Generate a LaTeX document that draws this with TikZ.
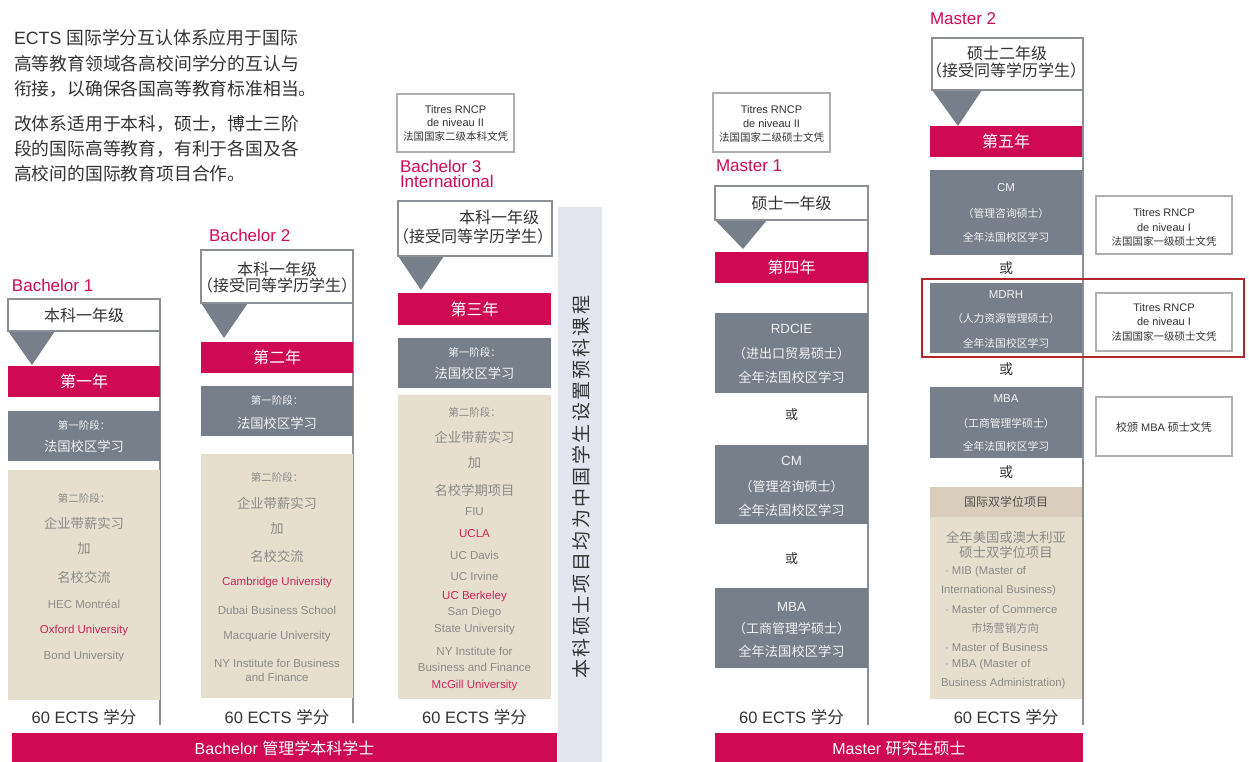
\documentclass[tikz,border=0pt]{standalone}
\usepackage{fontspec}
\setmainfont{Liberation Sans}
\newfontfamily\latfont{Liberation Sans}
\newfontfamily\cjkfont{Noto Sans CJK SC}
\XeTeXinterchartokenstate=1
\newXeTeXintercharclass\CJKcls
\newcount\cc
\cc="3000 \loop \XeTeXcharclass\cc=\CJKcls \advance\cc by 1 \ifnum\cc<"3040 \repeat
\cc="4E00 \loop \XeTeXcharclass\cc=\CJKcls \advance\cc by 1 \ifnum\cc<"A000 \repeat
\cc="FF00 \loop \XeTeXcharclass\cc=\CJKcls \advance\cc by 1 \ifnum\cc<"FFF0 \repeat
\XeTeXinterchartoks 0 \CJKcls = {\cjkfont}
\XeTeXinterchartoks 4095 \CJKcls = {\cjkfont}
\XeTeXinterchartoks \CJKcls 0 = {\latfont}
\XeTeXinterchartoks \CJKcls 4095 = {\latfont}
\def\spaced#1{\spacedi#1\relax}
\def\spacedi#1{\ifx#1\relax\else#1\kern2.4pt\expandafter\spacedi\fi}
\definecolor{brand}{HTML}{CF0A52}
\definecolor{boxgray}{HTML}{77808A}
\definecolor{beige}{HTML}{E6DFCE}
\definecolor{beigedark}{HTML}{D9CDBC}
\definecolor{txt}{HTML}{333333}
\definecolor{softtxt}{HTML}{8A8A8A}
\definecolor{redtxt}{HTML}{D0245A}
\definecolor{band}{HTML}{E3E6EE}
\definecolor{edge}{HTML}{8C9095}
\definecolor{thin}{HTML}{AFAFAF}
\definecolor{hl}{HTML}{B0262B}
\definecolor{wtxt}{HTML}{F2F2F2}
\tikzset{
 tb/.style={inner sep=0pt, outer sep=0pt},
 lbl/.style={tb, anchor=west, text=brand, font=\fontsize{17}{19}\selectfont},
 para/.style={tb, anchor=west, text=txt, font=\fontsize{17.8}{20}\selectfont},
 hd/.style={tb, text=txt, font=\fontsize{16}{18}\selectfont},
 yr/.style={tb, text=white, font=\fontsize{16}{18}\selectfont},
 ph/.style={tb, text=wtxt, font=\fontsize{10.5}{12}\selectfont},
 pb/.style={tb, text=softtxt, font=\fontsize{10.5}{12}\selectfont},
 wt/.style={tb, text=wtxt, font=\fontsize{13.3}{15}\selectfont},
 ws/.style={tb, text=wtxt, font=\fontsize{10.8}{12}\selectfont},
 sb/.style={tb, text=softtxt, font=\fontsize{13.3}{15}\selectfont},
 sl/.style={tb, text=softtxt, font=\fontsize{11.5}{13}\selectfont},
 sr/.style={sl, text=redtxt},
 ects/.style={tb, text=txt, font=\fontsize{16.5}{18}\selectfont},
 rn/.style={tb, text=txt, font=\fontsize{11}{12}\selectfont},
 ban/.style={tb, text=white, font=\fontsize{16}{18}\selectfont},
 orx/.style={tb, text=txt, font=\fontsize{13}{15}\selectfont},
 whitebox/.style={draw=edge, line width=1.4pt, fill=white},
 rnbox/.style={draw=thin, line width=1.1pt, fill=white},
 colline/.style={draw=edge, line width=1.4pt},
}
\begin{document}
\begin{tikzpicture}[x=1pt,y=-1pt]
\useasboundingbox (0,0) rectangle (1249,762);
% ---------- intro text ----------
\node[para] (p1) at (14,38) {ECTS 国际学分互认体系应用于国际};
\node[para] (p2) at (14,64) {高等教育领域各高校间学分的互认与};
\node[para] (p3) at (14,89) {衔接，以确保各国高等教育标准相当。};
\node[para] (p4) at (14,124) {改体系适用于本科，硕士，博士三阶};
\node[para] (p5) at (14,149) {段的国际高等教育，有利于各国及各};
\node[para] (p6) at (14,174) {高校间的国际教育项目合作。};
% ---------- Bachelor 1 ----------
\draw[colline] (160,299) -- (160,725);
\fill[boxgray] (8,331) -- (55,331) -- (32,365) -- cycle;
\draw[whitebox] (8,299) rectangle (160,331);
\fill[brand] (8,366) rectangle (160,397);
\fill[boxgray] (8,411) rectangle (160,461);
\fill[beige] (8,470) rectangle (160,700);
\node[lbl] (b1l) at (12,285) {Bachelor 1};
\node[hd] (b1h) at (84,315) {本科一年级};
\node[yr] (b1y) at (84,381.5) {第一年};
\node[ph] (b1a) at (84,425) {第一阶段：};
\node[wt] (b1b) at (84,446) {法国校区学习};
\node[pb] (b1c) at (84,498) {第二阶段：};
\node[sb] (b1d) at (84,523) {企业带薪实习};
\node[sb] (b1e) at (84,549) {加};
\node[sb] (b1f) at (84,577) {名校交流};
\node[sl] (b1g) at (84,604) {HEC Montréal};
\node[sr] (b1i) at (84,631) {Oxford University};
\node[sl] (b1j) at (84,657) {Bond University};
\node[ects] (b1k) at (84,717) {60 ECTS 学分};
% ---------- Bachelor 2 ----------
\draw[colline] (353,250) -- (353,723);
\fill[boxgray] (201,303) -- (248,303) -- (224,338) -- cycle;
\draw[whitebox] (201,250) rectangle (353,303);
\fill[brand] (201,342) rectangle (353,373);
\fill[boxgray] (201,386) rectangle (353,436);
\fill[beige] (201,454) rectangle (353,698);
\node[lbl] (b2l) at (209,235) {Bachelor 2};
\node[hd] (b2h1) at (277,269) {本科一年级};
\node[hd] (b2h2) at (277,285) {（接受同等学历学生）};
\node[yr] (b2y) at (277,357.5) {第二年};
\node[ph] (b2a) at (277,400) {第一阶段：};
\node[wt] (b2b) at (277,423) {法国校区学习};
\node[pb] (b2c) at (277,477) {第二阶段：};
\node[sb] (b2d) at (277,503) {企业带薪实习};
\node[sb] (b2e) at (277,529) {加};
\node[sb] (b2f) at (277,556) {名校交流};
\node[sr] (b2g) at (277,583) {Cambridge University};
\node[sl] (b2i) at (277,610) {Dubai Business School};
\node[sl] (b2j) at (277,637) {Macquarie University};
\node[sl] (b2k) at (277,663) {NY Institute for Business};
\node[sl] (b2m) at (277,677) {and Finance};
\node[ects] (b2n) at (277,717) {60 ECTS 学分};
% ---------- Bachelor 3 ----------
\draw[rnbox] (397,94) rectangle (514,152);
\node[rn] (b3r1) at (455.5,110) {Titres RNCP};
\node[rn] (b3r2) at (455.5,123) {de niveau II};
\node[rn, font=\fontsize{10.5}{12}\selectfont] (b3r3) at (455.5,136) {法国国家二级本科文凭};
\node[lbl, align=left, font=\fontsize{17}{14.5}\selectfont] (b3l) at (400,174) {Bachelor 3\\International};
\fill[boxgray] (398,256) -- (444,256) -- (421,290) -- cycle;
\draw[whitebox] (398,201) rectangle (552,256);
\fill[brand] (398,293) rectangle (551,325);
\fill[boxgray] (398,338) rectangle (551,388);
\fill[beige] (398,395) rectangle (551,699);
\node[hd] (b3h1) at (499,217) {本科一年级};
\node[hd] (b3h2) at (473,236) {（接受同等学历学生）};
\node[yr] (b3y) at (474.5,309) {第三年};
\node[ph] (b3a) at (474.5,352) {第一阶段：};
\node[wt] (b3b) at (474.5,373) {法国校区学习};
\node[pb] (b3c) at (474.5,412) {第二阶段：};
\node[sb] (b3d) at (474.5,437) {企业带薪实习};
\node[sb] (b3e) at (474.5,463) {加};
\node[sb] (b3f) at (474.5,490) {名校学期项目};
\node[sl] (b3g) at (474.5,512) {FIU};
\node[sr] (b3i) at (474.5,534) {UCLA};
\node[sl] (b3j) at (474.5,555) {UC Davis};
\node[sl] (b3k) at (474.5,576) {UC Irvine};
\node[sr] (b3m) at (474.5,597) {UC Berkeley};
\node[sl] (b3n) at (474.5,613) {San Diego};
\node[sl] (b3o) at (474.5,630) {State University};
\node[sl] (b3p) at (474.5,651) {NY Institute for};
\node[sl] (b3q) at (474.5,667) {Business and Finance};
\node[sr] (b3s) at (474.5,686) {McGill University};
\node[ects] (b3t) at (474.5,717) {60 ECTS 学分};
% ---------- band ----------
\fill[band] (558,207) rectangle (602,762);
\node[tb, rotate=90, text=txt, font=\fontsize{19}{21}\selectfont] (vband) at (581,486)
  {\XeTeXinterchartokenstate=0 \cjkfont\spaced{本科硕士项目均为中国学生设置预科课程}};
% ---------- Bachelor banner ----------
\fill[brand] (12,733) rectangle (557,762);
\node[ban] (bban) at (284.5,748) {Bachelor 管理学本科学士};
% ---------- Master 1 ----------
\draw[rnbox] (713,93) rectangle (830,152);
\node[rn] (m1r1) at (771.5,110) {Titres RNCP};
\node[rn] (m1r2) at (771.5,124) {de niveau II};
\node[rn, font=\fontsize{10.5}{12}\selectfont] (m1r3) at (771.5,137) {法国国家二级硕士文凭};
\node[lbl] (m1l) at (716,166) {Master 1};
\draw[colline] (868,186) -- (868,725);
\fill[boxgray] (715,220) -- (767,220) -- (743,249) -- cycle;
\draw[whitebox] (715,186) rectangle (868,220);
\fill[brand] (715,252) rectangle (868,283);
\fill[boxgray] (715,313) rectangle (868,393);
\fill[boxgray] (715,445) rectangle (868,524);
\fill[boxgray] (715,588) rectangle (868,668);
\node[hd] (m1h) at (791.5,203) {硕士一年级};
\node[yr] (m1y) at (791.5,267.5) {第四年};
\node[wt] (m1a1) at (791.5,329) {RDCIE};
\node[wt, font=\fontsize{13}{15}\selectfont] (m1a2) at (791.5,354) {（进出口贸易硕士）};
\node[wt] (m1a3) at (791.5,377) {全年法国校区学习};
\node[orx] (m1o1) at (791.5,415) {或};
\node[wt] (m1b1) at (791.5,461) {CM};
\node[wt, font=\fontsize{13}{15}\selectfont] (m1b2) at (791.5,487) {（管理咨询硕士）};
\node[wt] (m1b3) at (791.5,510) {全年法国校区学习};
\node[orx] (m1o2) at (791.5,559) {或};
\node[wt] (m1c1) at (791.5,607) {MBA};
\node[wt, font=\fontsize{13}{15}\selectfont] (m1c2) at (791.5,629) {（工商管理学硕士）};
\node[wt] (m1c3) at (791.5,651) {全年法国校区学习};
\node[ects] (m1e) at (791.5,717) {60 ECTS 学分};
% ---------- Master banner ----------
\fill[brand] (715,733) rectangle (1083,762);
\node[ban] (mban) at (899,748) {Master 研究生硕士};
% ---------- Master 2 ----------
\node[lbl] (m2l) at (930,19) {Master 2};
\draw[colline] (1083,38) -- (1083,725);
\fill[boxgray] (932,90) -- (982,90) -- (958,126) -- cycle;
\draw[whitebox] (932,38) rectangle (1083,90);
\fill[brand] (930,126) rectangle (1082,157);
\fill[boxgray] (930,170) rectangle (1082,255);
\fill[boxgray] (930,283) rectangle (1082,353);
\fill[boxgray] (930,387) rectangle (1082,458);
\fill[beigedark] (930,487) rectangle (1082,517);
\fill[beige] (930,517) rectangle (1082,699);
\draw[hl, line width=1.8pt] (922,279) rectangle (1244,357);
\node[hd] (m2h1) at (1007,53) {硕士二年级};
\node[hd] (m2h2) at (1006,70) {（接受同等学历学生）};
\node[yr] (m2y) at (1006,141.5) {第五年};
\node[ws, font=\fontsize{11.5}{13}\selectfont] (m2a1) at (1006,188) {CM};
\node[ws] (m2a2) at (1006,213) {（管理咨询硕士）};
\node[ws] (m2a3) at (1006,237) {全年法国校区学习};
\node[orx, font=\fontsize{14}{16}\selectfont] (m2o1) at (1006,268) {或};
\node[ws, font=\fontsize{11.5}{13}\selectfont] (m2b1) at (1006,295) {MDRH};
\node[ws] (m2b2) at (1006,318) {（人力资源管理硕士）};
\node[ws] (m2b3) at (1006,343) {全年法国校区学习};
\node[orx, font=\fontsize{14}{16}\selectfont] (m2o2) at (1006,369) {或};
\node[ws, font=\fontsize{11.5}{13}\selectfont] (m2c1) at (1006,399) {MBA};
\node[ws] (m2c2) at (1006,423) {（工商管理学硕士）};
\node[ws] (m2c3) at (1006,446) {全年法国校区学习};
\node[orx, font=\fontsize{14}{16}\selectfont] (m2o3) at (1006,472) {或};
\node[tb, text=txt!85, font=\fontsize{12}{14}\selectfont] (m2d) at (1006,502) {国际双学位项目};
\node[sb] (m2e1) at (1006,537) {全年美国或澳大利亚};
\node[sb] (m2e2) at (1006,552) {硕士双学位项目};
\node[sl, anchor=west, font=\fontsize{11.3}{13}\selectfont] (m2f1) at (945,572) {· MIB (Master of};
\node[sl, anchor=west, font=\fontsize{11.3}{13}\selectfont] (m2f2) at (941,591) {International Business)};
\node[sl, anchor=west, font=\fontsize{11.3}{13}\selectfont] (m2f3) at (945,609) {· Master of Commerce};
\node[sl, font=\fontsize{11.3}{13}\selectfont] (m2f4) at (1005,628) {市场营销方向};
\node[sl, anchor=west, font=\fontsize{11.3}{13}\selectfont] (m2f5) at (945,647) {· Master of Business};
\node[sl, anchor=west, font=\fontsize{11.3}{13}\selectfont] (m2f6) at (945,665) {· MBA (Master of};
\node[sl, anchor=west, font=\fontsize{11.3}{13}\selectfont] (m2f7) at (941,684) {Business Administration)};
\node[ects] (m2g) at (1006,717) {60 ECTS 学分};
% ---------- right diplomas ----------
\draw[rnbox] (1096,196) rectangle (1232,254);
\node[rn] (d1a) at (1164,213) {Titres RNCP};
\node[rn] (d1b) at (1164,228) {de niveau I};
\node[rn, font=\fontsize{10.5}{12}\selectfont] (d1c) at (1164,241) {法国国家一级硕士文凭};
\draw[rnbox] (1096,293) rectangle (1232,351);
\node[rn] (d2a) at (1164,308) {Titres RNCP};
\node[rn] (d2b) at (1164,322) {de niveau I};
\node[rn, font=\fontsize{10.5}{12}\selectfont] (d2c) at (1164,336) {法国国家一级硕士文凭};
\draw[rnbox] (1096,397) rectangle (1232,456);
\node[rn] (d3a) at (1164,427) {校颁 MBA 硕士文凭};
\end{tikzpicture}
\end{document}
